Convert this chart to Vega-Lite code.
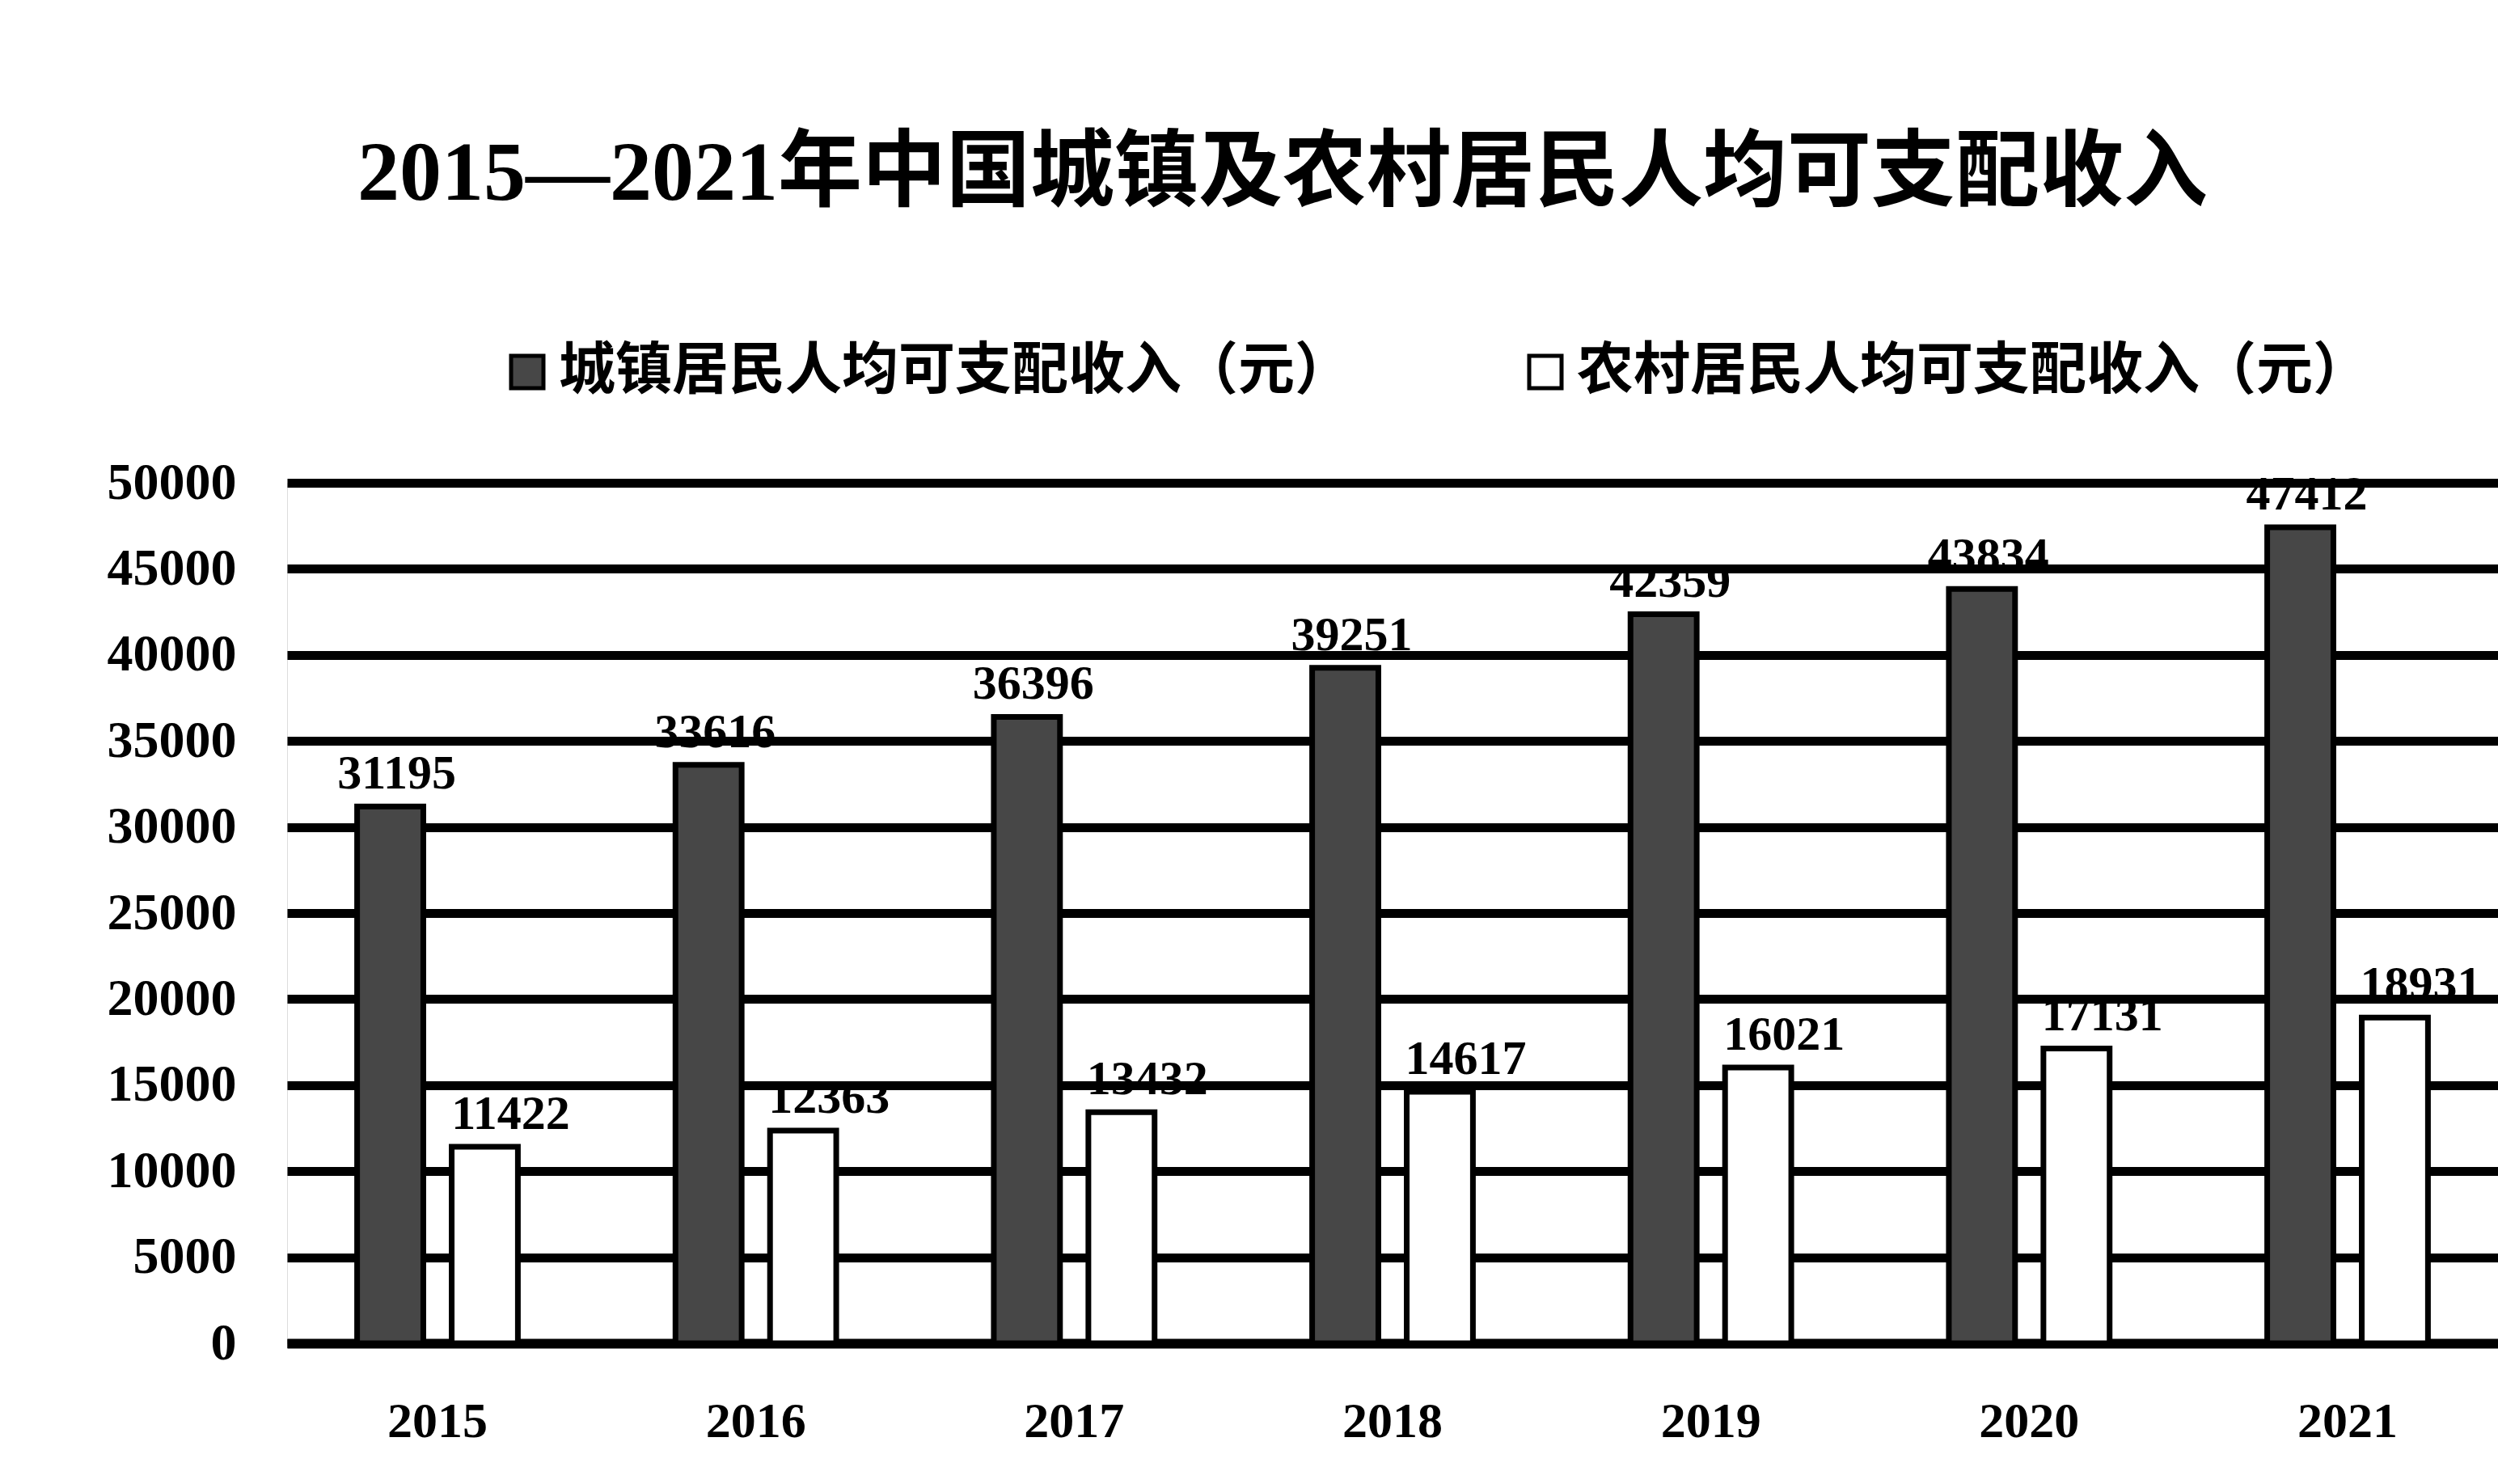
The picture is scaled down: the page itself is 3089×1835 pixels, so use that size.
{
  "$schema": "https://vega.github.io/schema/vega-lite/v6.json",
  "width": 2734,
  "height": 1064,
  "autosize": {"type": "none"},
  "padding": {"left": 355, "top": 597, "right": 0, "bottom": 174},
  "background": "white",
  "title": {
    "text": "2015—2021年中国城镇及农村居民人均可支配收入",
    "font": "Liberation Serif, Noto Sans CJK SC",
    "fontSize": 104,
    "fontWeight": "bold",
    "color": "black",
    "anchor": "middle",
    "frame": "group",
    "dx": -136,
    "offset": 156
  },
  "data": {
    "values": [
      {"year": "2015", "type": "城镇居民人均可支配收入（元）", "value": 31195},
      {"year": "2016", "type": "城镇居民人均可支配收入（元）", "value": 33616},
      {"year": "2017", "type": "城镇居民人均可支配收入（元）", "value": 36396},
      {"year": "2018", "type": "城镇居民人均可支配收入（元）", "value": 39251},
      {"year": "2019", "type": "城镇居民人均可支配收入（元）", "value": 42359},
      {"year": "2020", "type": "城镇居民人均可支配收入（元）", "value": 43834},
      {"year": "2021", "type": "城镇居民人均可支配收入（元）", "value": 47412},
      {"year": "2015", "type": "农村居民人均可支配收入（元）", "value": 11422},
      {"year": "2016", "type": "农村居民人均可支配收入（元）", "value": 12363},
      {"year": "2017", "type": "农村居民人均可支配收入（元）", "value": 13432},
      {"year": "2018", "type": "农村居民人均可支配收入（元）", "value": 14617},
      {"year": "2019", "type": "农村居民人均可支配收入（元）", "value": 16021},
      {"year": "2020", "type": "农村居民人均可支配收入（元）", "value": 17131},
      {"year": "2021", "type": "农村居民人均可支配收入（元）", "value": 18931}
    ]
  },
  "encoding": {
    "x": {
      "field": "year",
      "type": "nominal",
      "scale": {"paddingInner": 0.495, "paddingOuter": 0.22},
      "axis": {
        "title": null,
        "labelAngle": 0,
        "labelFont": "Liberation Serif",
        "labelFontSize": 62,
        "labelFontWeight": "bold",
        "labelColor": "black",
        "labelPadding": 66,
        "ticks": false,
        "domain": true,
        "domainColor": "black",
        "domainWidth": 12,
        "grid": false
      }
    },
    "xOffset": {
      "field": "type",
      "type": "nominal",
      "sort": ["城镇居民人均可支配收入（元）", "农村居民人均可支配收入（元）"],
      "scale": {"paddingInner": 0.3}
    },
    "y": {
      "field": "value",
      "type": "quantitative",
      "scale": {"domain": [0, 50000], "nice": false},
      "axis": {
        "title": null,
        "values": [0, 5000, 10000, 15000, 20000, 25000, 30000, 35000, 40000, 45000, 50000],
        "format": "d",
        "labelFont": "Liberation Serif",
        "labelFontSize": 64,
        "labelFontWeight": "bold",
        "labelColor": "black",
        "labelPadding": 63,
        "ticks": false,
        "domain": false,
        "grid": true,
        "gridColor": "black",
        "gridWidth": 11,
        "gridOpacity": 1
      }
    }
  },
  "layer": [
    {
      "mark": {"type": "bar", "stroke": "black", "strokeWidth": 7},
      "encoding": {
        "color": {
          "field": "type",
          "type": "nominal",
          "sort": ["城镇居民人均可支配收入（元）", "农村居民人均可支配收入（元）"],
          "scale": {
            "domain": ["城镇居民人均可支配收入（元）", "农村居民人均可支配收入（元）"],
            "range": ["#474747", "#ffffff"]
          },
          "legend": {
            "title": null,
            "orient": "none",
            "legendX": 262,
            "legendY": -172,
            "direction": "horizontal",
            "symbolType": "square",
            "symbolSize": 1600,
            "symbolStrokeColor": "black",
            "symbolStrokeWidth": 5,
            "labelFont": "Noto Sans CJK SC",
            "labelFontSize": 70,
            "labelFontWeight": "bold",
            "labelColor": "black",
            "labelLimit": 0,
            "labelOffset": 4,
            "columnPadding": 205
          }
        }
      }
    },
    {
      "transform": [{"filter": "datum.type === '城镇居民人均可支配收入（元）'"}],
      "mark": {
        "type": "text",
        "font": "Liberation Serif",
        "fontSize": 60,
        "fontWeight": "bold",
        "baseline": "alphabetic",
        "dy": -22,
        "dx": 8,
        "color": "black"
      },
      "encoding": {"text": {"field": "value", "type": "quantitative", "format": "d"}}
    },
    {
      "transform": [{"filter": "datum.type === '农村居民人均可支配收入（元）'"}],
      "mark": {
        "type": "text",
        "font": "Liberation Serif",
        "fontSize": 60,
        "fontWeight": "bold",
        "baseline": "alphabetic",
        "dy": -22,
        "dx": 32,
        "color": "black"
      },
      "encoding": {"text": {"field": "value", "type": "quantitative", "format": "d"}}
    }
  ]
}
